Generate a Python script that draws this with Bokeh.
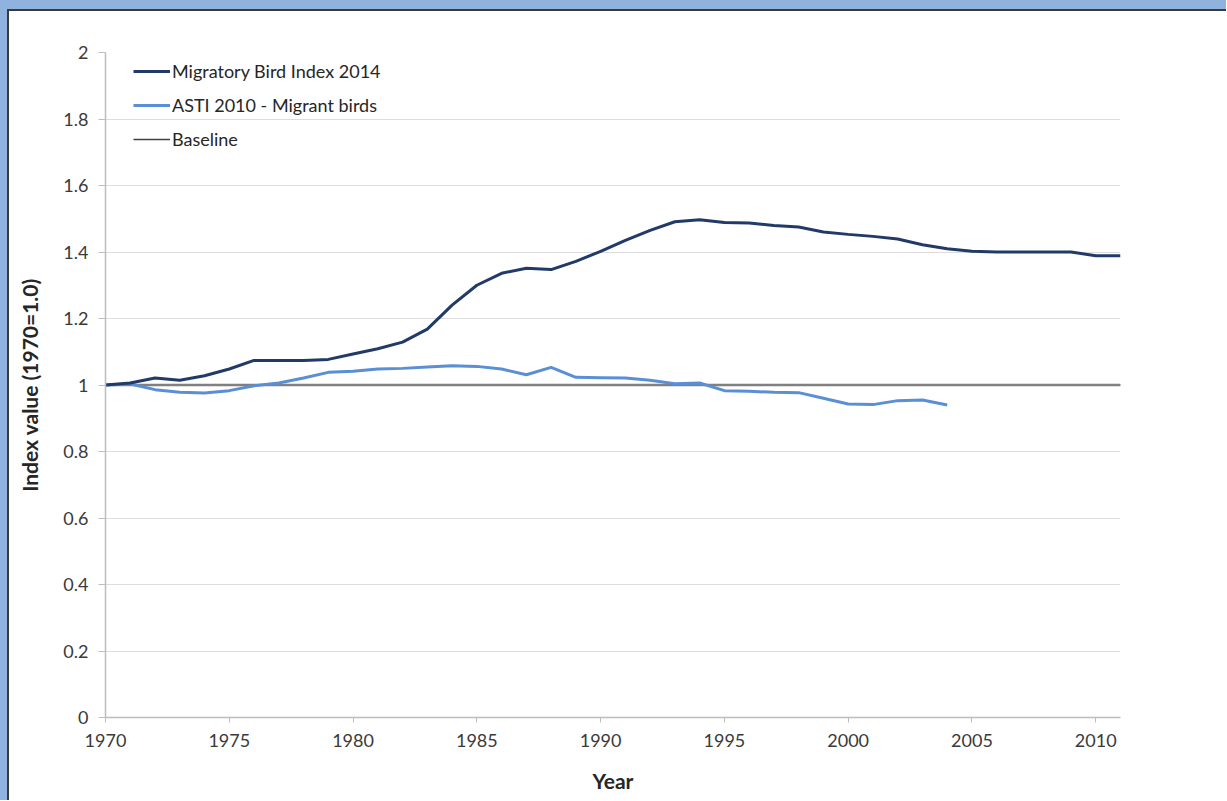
from bokeh.plotting import figure
from bokeh.models import Range1d, FixedTicker, Legend, LegendItem
from bokeh.embed import file_html
from bokeh.resources import INLINE

# ---- data ----
mbi_years = list(range(1970, 2012))
mbi_values = [1.000, 1.006, 1.021, 1.014, 1.028, 1.048, 1.074, 1.074, 1.074, 1.077,
              1.093, 1.109, 1.129, 1.168, 1.240, 1.300, 1.336, 1.351, 1.347, 1.372,
              1.402, 1.435, 1.465, 1.491, 1.497, 1.489, 1.487, 1.480, 1.475, 1.460,
              1.453, 1.447, 1.439, 1.422, 1.410, 1.402, 1.400, 1.400, 1.400, 1.400,
              1.389, 1.389]

asti_years = list(range(1970, 2005))
asti_values = [1.000, 1.003, 0.986, 0.978, 0.976, 0.983, 0.998, 1.006, 1.021, 1.038,
               1.041, 1.048, 1.050, 1.054, 1.058, 1.056, 1.048, 1.031, 1.053, 1.023,
               1.022, 1.021, 1.014, 1.004, 1.006, 0.983, 0.981, 0.978, 0.977, 0.960,
               0.943, 0.941, 0.953, 0.955, 0.940]

baseline_years = [1970, 2011]
baseline_values = [1.0, 1.0]

x_ticks = [1970, 1975, 1980, 1985, 1990, 1995, 2000, 2005, 2010]
y_ticks = [0, 0.2, 0.4, 0.6, 0.8, 1, 1.2, 1.4, 1.6, 1.8, 2]
y_tick_labels = ["0", "0.2", "0.4", "0.6", "0.8", "1", "1.2", "1.4", "1.6", "1.8", "2"]

series_names = ["Migratory Bird Index 2014", "ASTI 2010 - Migrant birds", "Baseline"]

FONT = "Lato"

p = figure(width=1226, height=800, output_backend="svg", toolbar_location=None,
           x_range=Range1d(1970, 2011), y_range=Range1d(0, 2),
           min_border_left=105, min_border_right=106, min_border_top=52, min_border_bottom=83)
# light-blue frame with a dark edge on the top and left of the white panel
p.styles = {"background-color": "white",
            "box-shadow": "inset 7px 9px 0 0 #8fb3de, inset 9px 11px 0 0 #3a3a3a"}
p.outline_line_color = None
p.background_fill_color = "white"
p.border_fill_color = None
p.border_fill_alpha = 0

# key line for the baseline (thinner/darker in the legend), covered by the baseline itself
r_base_key = p.line(baseline_years, baseline_values, line_color="#404040", line_width=1.5)
r_base = p.line(baseline_years, baseline_values, line_color="#808080", line_width=2.5)
r_asti = p.line(asti_years, asti_values, line_color="#5a8fd6", line_width=3)
r_mbi = p.line(mbi_years, mbi_values, line_color="#213a68", line_width=3)

# axes
p.xaxis.ticker = FixedTicker(ticks=x_ticks)
p.yaxis.ticker = FixedTicker(ticks=y_ticks)
p.yaxis.major_label_overrides = dict(zip(y_ticks, y_tick_labels))
for ax in (p.xaxis[0], p.yaxis[0]):
    ax.axis_line_color = "#bdbdbd"
    ax.axis_line_width = 1.5
    ax.major_tick_line_color = "#bdbdbd"
    ax.major_tick_in = 0
    ax.minor_tick_line_color = None
    ax.major_label_text_font = FONT
    ax.major_label_text_font_size = "18px"
    ax.major_label_text_color = "#3a3a3a"
    ax.axis_label_text_font = FONT
    ax.axis_label_text_font_style = "bold"
    ax.axis_label_text_color = "#262626"
p.xaxis.major_tick_out = 5
p.yaxis.major_tick_out = 7
p.xaxis.major_label_standoff = 11
p.yaxis.major_label_standoff = 10
p.xaxis.axis_label = "Year"
p.xaxis.axis_label_text_font_size = "21px"
p.xaxis.axis_label_standoff = 18
p.yaxis.axis_label = "Index value (1970=1.0)"
p.yaxis.axis_label_text_font_size = "21px"
p.yaxis.axis_label_standoff = 18

p.xgrid.grid_line_color = None
p.ygrid.grid_line_color = "#dcdcdc"
p.ygrid.grid_line_width = 1

legend = Legend(items=[LegendItem(label=series_names[0], renderers=[r_mbi]),
                       LegendItem(label=series_names[1], renderers=[r_asti]),
                       LegendItem(label=series_names[2], renderers=[r_base_key])],
                location=(28, 567), padding=0, margin=0, spacing=12,
                glyph_width=37, glyph_height=20, label_height=20, label_standoff=2,
                label_text_font=FONT, label_text_font_size="18px", label_text_color="#262626",
                border_line_color=None, background_fill_alpha=0)
p.add_layout(legend)

open("out.html", "w").write(file_html(p, INLINE))
